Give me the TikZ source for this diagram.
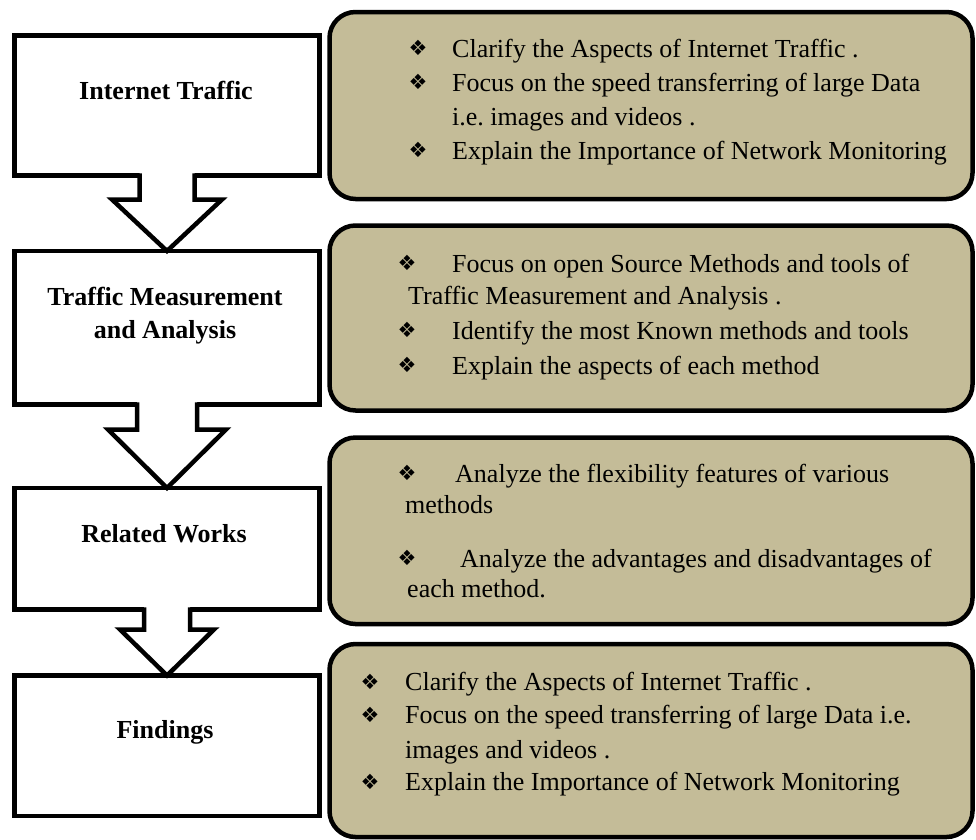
\documentclass[tikz,border=0pt]{standalone}
\usepackage{fontspec}
\setmainfont{Liberation Serif}
\newfontfamily\symfont{DejaVu Sans}
\usetikzlibrary{calc}
\definecolor{boxtan}{HTML}{C4BC98}
\newcommand\blockarr[5]{%
  \fill[white] ($(#1.south)+(-#3,-3)$) -- ($(#1.south)+(-#3,#4)$) -- ($(#1.south)+(-#5,#4)$) -- (#2.north) -- ($(#1.south)+(#5,#4)$) -- ($(#1.south)+(#3,#4)$) -- ($(#1.south)+(#3,-3)$) -- cycle;
  \draw[arrowline] ($(#1.south)+(-#3,-2.25)$) -- ($(#1.south)+(-#3,#4)$) -- ($(#1.south)+(-#5,#4)$) -- (#2.north) -- ($(#1.south)+(#5,#4)$) -- ($(#1.south)+(#3,#4)$) -- ($(#1.south)+(#3,-2.25)$);
}
\begin{document}
\begin{tikzpicture}[x=1pt,y=-1pt,
  leftbox/.style={draw=black, line width=4.5pt, fill=white, outer sep=0pt, inner sep=0pt, minimum width=305pt},
  rightbox/.style={draw=black, line width=4.5pt, fill=boxtan, rounded corners=26pt, outer sep=0pt, inner sep=0pt, minimum width=643pt},
  lbl/.style={font=\fontsize{26}{30}\selectfont\bfseries, anchor=base, inner sep=0pt},
  txtline/.style={font=\fontsize{26}{30}\selectfont, anchor=base west, inner sep=0pt},
  bul/.style={font=\symfont\fontsize{21}{21}\selectfont, anchor=center, inner sep=0pt},
  arrowline/.style={draw=black, line width=4.5pt, line join=miter},
]
\useasboundingbox (0,0) rectangle (976,839);
\fill[white] (0,0) rectangle (976,839);

% left boxes
\node[leftbox, minimum height=140pt]   (b1) at (167,105.5)  {};
\node[leftbox, minimum height=153.5pt] (b2) at (167,327.75) {};
\node[leftbox, minimum height=121.5pt] (b3) at (167,548.75) {};
\node[leftbox, minimum height=140.5pt] (b4) at (167,745.75) {};

% block arrows
\blockarr{b1}{b2}{27.5}{24}{55}
\blockarr{b2}{b3}{30}{25}{59}
\blockarr{b3}{b4}{23}{20}{47}

% left labels
\node[lbl] (l1)  at (166,99)  {Internet Traffic};
\node[lbl] (l2a) at (165,305) {Traffic Measurement};
\node[lbl] (l2b) at (165,338) {and Analysis};
\node[lbl] (l3)  at (164,542) {Related Works};
\node[lbl] (l4)  at (165,738) {Findings};

% right boxes
\node[rightbox, minimum height=187pt]   (r1) at (651,105.5)  {};
\node[rightbox, minimum height=185pt]   (r2) at (651,318)    {};
\node[rightbox, minimum height=186.5pt] (r3) at (651,530.75) {};
\node[rightbox, minimum height=193pt]   (r4) at (651,740.5)  {};

% box 1 text
\node[bul] (p1a) at (418,48)  {❖};
\node[bul] (p1b) at (418,82)  {❖};
\node[bul] (p1c) at (418,150) {❖};
\node[txtline] (t1a) at (452,57)  {Clarify the Aspects of Internet Traffic .};
\node[txtline] (t1b) at (452,91)  {Focus on the speed transferring of large Data};
\node[txtline] (t1c) at (452,125) {i.e.\ images and videos .};
\node[txtline] (t1d) at (452,159) {Explain the Importance of Network Monitoring};

% box 2 text
\node[bul] (p2a) at (407,263) {❖};
\node[bul] (p2b) at (407,330) {❖};
\node[bul] (p2c) at (407,365) {❖};
\node[txtline] (t2a) at (452,272) {Focus on open Source Methods and tools of};
\node[txtline] (t2b) at (408,304) {Traffic Measurement and Analysis .};
\node[txtline] (t2c) at (452,339) {Identify the most Known methods and tools};
\node[txtline] (t2d) at (452,374) {Explain the aspects of each method};

% box 3 text
\node[bul] (p3a) at (407,473) {❖};
\node[bul] (p3b) at (407,558) {❖};
\node[txtline] (t3a) at (455,482) {Analyze the flexibility features of various};
\node[txtline] (t3b) at (405,513) {methods};
\node[txtline] (t3c) at (460,567) {Analyze the advantages and disadvantages of};
\node[txtline] (t3d) at (407,597) {each method.};

% box 4 text
\node[bul] (p4a) at (370,681.5) {❖};
\node[bul] (p4b) at (370,714.5) {❖};
\node[bul] (p4c) at (370,781.5) {❖};
\node[txtline] (t4a) at (405,690) {Clarify the Aspects of Internet Traffic .};
\node[txtline] (t4b) at (405,723) {Focus on the speed transferring of large Data i.e.};
\node[txtline] (t4c) at (405,758) {images and videos .};
\node[txtline] (t4d) at (405,790) {Explain the Importance of Network Monitoring};
\end{tikzpicture}
\end{document}
